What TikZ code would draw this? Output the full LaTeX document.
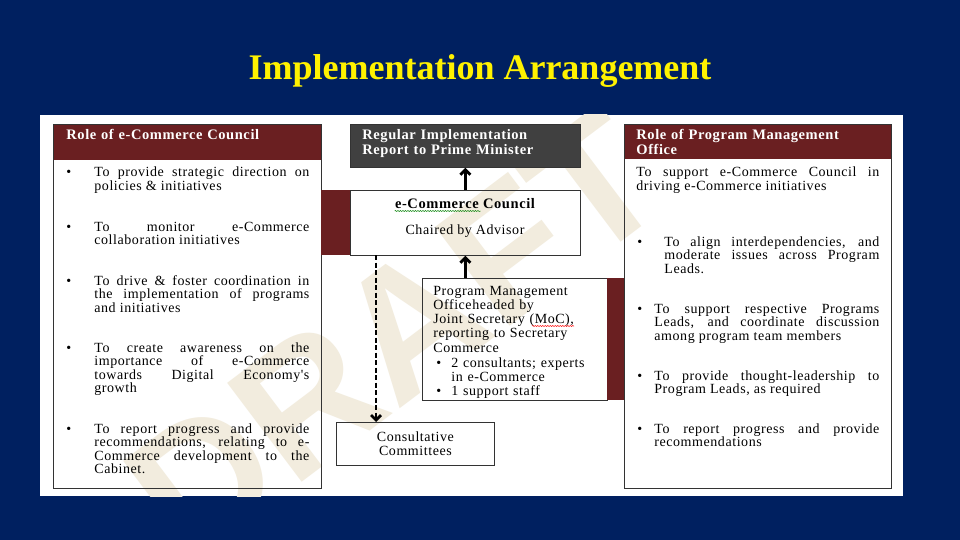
\documentclass[tikz,border=0pt]{standalone}
\usepackage{fontspec}
\setmainfont{Liberation Serif}
\newfontfamily\boxfont[LetterSpace=4]{Liberation Serif}
\newfontfamily\wmfont{Liberation Sans}
\usetikzlibrary{positioning,arrows.meta,decorations.pathmorphing}
\definecolor{slidebg}{RGB}{0,32,96}
\definecolor{rolered}{RGB}{106,31,33}
\definecolor{reportgray}{RGB}{64,64,64}
\definecolor{wmbeige}{RGB}{242,236,222}
\tikzset{
every picture/.style={
line width=0.8pt
}}

\begin{document}
\begin{tikzpicture}[x=1pt, y=-1pt,
box/.style = {rectangle, draw=black!80, inner sep=0pt, anchor=north west},
bar/.style = {rectangle, fill=rolered, inner sep=0pt, anchor=north west},
hdrtxt/.style = {anchor=base west, inner sep=0pt, text=white, align=left, font=\boxfont\bfseries\fontsize{14.5}{15}\selectfont},
item/.style = {anchor=base west, inner sep=0pt, align=justify, font=\boxfont\fontsize{14}{13.6}\selectfont},
dot/.style = {anchor=base west, inner sep=0pt, font=\boxfont\fontsize{14}{13.6}\selectfont},
arr/.style = {line width=2.8pt, -{Straight Barb[length=5pt,width=10pt]}}]
\useasboundingbox (0,0) rectangle (960,540);
\fill[slidebg] (0,0) rectangle (960,540);
\fill[white] (40,115) rectangle (903,496);
\node[anchor=base, text=yellow, font=\bfseries\fontsize{36}{40}\selectfont] (title) at (480,80) {Implementation Arrangement};

% watermark
\begin{scope}
\clip (40,115) rectangle (903,496);
\node[rotate=37, text=wmbeige, font=\wmfont\bfseries\fontsize{180}{180}\selectfont] (draft) at (395,335) {DRAFT};
\end{scope}

% left column
\node[bar, minimum width=268, minimum height=36] (echead) at (53,124) {};
\node[box, minimum width=268, minimum height=364] (ecrole) at (53,124) {};
\node[hdrtxt, text width=240] (ectitle) at (66,140) {Role of e-Commerce Council};
\foreach \n/\y/\t in {
  1/177/{To provide strategic direction on\linebreak policies \& initiatives},
  2/231/{To monitor e-Commerce\linebreak collaboration initiatives},
  3/285/{To drive \& foster coordination in\linebreak the implementation of programs\linebreak and initiatives},
  4/352/{To create awareness on the\linebreak importance of e-Commerce\linebreak towards Digital Economy's\linebreak growth},
  5/433/{To report progress and provide\linebreak recommendations, relating to e-\linebreak Commerce development to the\linebreak Cabinet.}}{
  \node[dot] (ecdot\n) at (66,\y) {\textbullet};
  \node[item, text width=215] (ecitem\n) at (94,\y) {\t};
}

% middle
\node[box, fill=reportgray, minimum width=230, minimum height=43] (report) at (350,124) {};
\node[hdrtxt, text width=210] (reporttxt) at (362,140) {Regular Implementation\\Report to Prime Minister};
\node[bar, minimum width=29, minimum height=65] (eccbar) at (321,190) {};
\node[box, minimum width=230, minimum height=65] (ecc) at (350,190) {};
\node[dot, anchor=base, font=\boxfont\bfseries\fontsize{14.5}{15}\selectfont] (ecctitle) at (465,208) {e-Commerce Council};
\node[dot, anchor=base] (eccchair) at (465,234) {Chaired by Advisor};
\draw[decorate, decoration={snake, amplitude=0.5pt, segment length=2.5pt}, draw=green!50!black, line width=0.5pt] (ecctitle.base west) ++(0,3) -- ++(86,0);

\node[box, minimum width=185, minimum height=122] (pmo) at (422,278) {};
\node[bar, minimum width=17, minimum height=122] (pmobar) at (607,278) {};
\node[item, align=left, text width=172, font=\boxfont\fontsize{14}{14.3}\selectfont] (pmotxt) at (433,295)
  {Program Management\\Officeheaded by\\Joint Secretary (MoC),\\reporting to Secretary\\Commerce};
\draw[decorate, decoration={snake, amplitude=0.5pt, segment length=2.5pt}, draw=red, line width=0.5pt] (532,326) -- (574,326);
\node[dot] (pmodot1) at (436,367) {\textbullet};
\node[item, align=left, text width=155, font=\boxfont\fontsize{14}{14.3}\selectfont] (pmoitem1) at (451,367) {2 consultants; experts\\in e-Commerce};
\node[dot] (pmodot2) at (436,395) {\textbullet};
\node[item, align=left, text width=155] (pmoitem2) at (451,395) {1 support staff};

\node[box, minimum width=158, minimum height=43, align=center, font=\boxfont\fontsize{14}{14}\selectfont] (consult) at (336,422) {Consultative\\Committees};

\draw[arr] (ecc.north) -- (report.south);
\draw[arr] (ecc.south |- pmo.north) -- (ecc.south);
\coordinate (dashtop) at (376,255);
\draw[arr, dash pattern=on 5pt off 2.5pt] (dashtop) -- (dashtop |- consult.north);

% right column
\node[bar, minimum width=267, minimum height=35] (pmhead) at (624,124) {};
\node[box, minimum width=267, minimum height=364] (pmrole) at (624,124) {};
\node[hdrtxt, text width=240] (pmtitle) at (636,140) {Role of Program Management\\Office};
\node[item, text width=243] (pmlead) at (636,177) {To support e-Commerce Council in\linebreak driving e-Commerce initiatives};
\foreach \n/\y/\tx/\w/\hi/\t in {
  1/246/664/215/0/{To align interdependencies, and\linebreak moderate issues across Program\linebreak Leads.},
  2/313/654/225/10/{To support respective Programs\linebreak Leads, and coordinate discussion\linebreak among program team members},
  3/380/654/225/10/{To provide thought-leadership to\linebreak Program Leads, as required},
  4/433/654/225/10/{To report progress and provide\linebreak recommendations}}{
  \node[dot] (pmdot\n) at (637,\y) {\textbullet};
  \node[item, text width=\w] (pmitem\n) at (\tx,\y) {\hangindent=\hi pt\hangafter=1 \t};
}
\end{tikzpicture}
\end{document}
